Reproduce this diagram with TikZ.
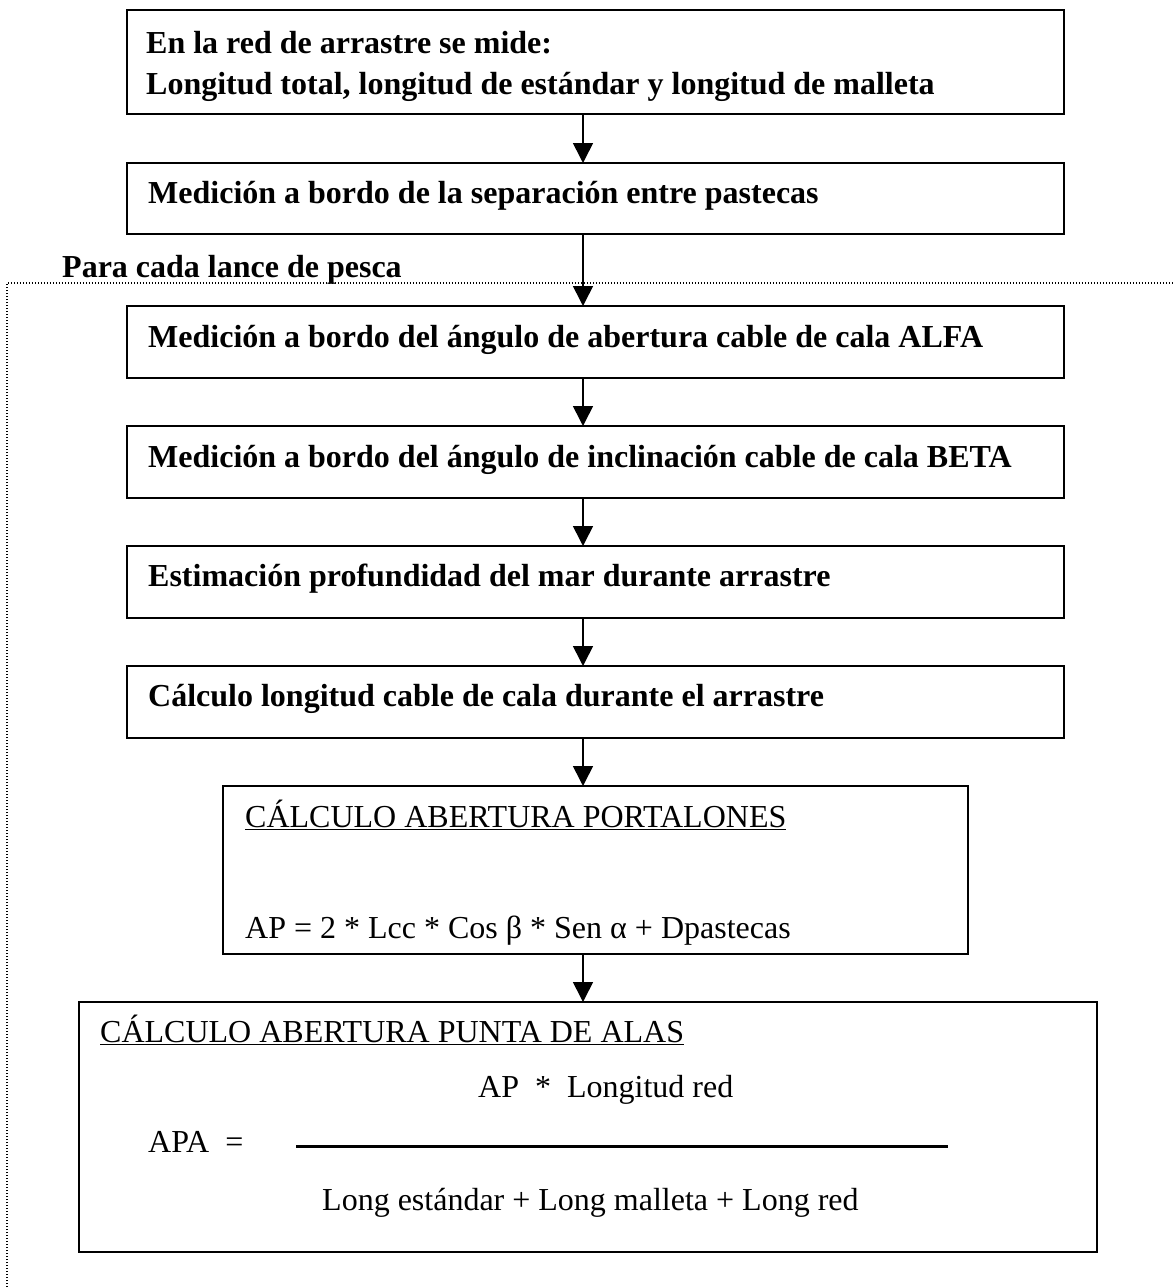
\documentclass[tikz,border=0pt]{standalone}
\usepackage{fontspec}
\setmainfont{Liberation Serif}
\usetikzlibrary{arrows.meta}
\begin{document}
\begin{tikzpicture}[x=1pt,y=-1pt,
  box/.style={draw, line width=2pt, inner sep=0pt, outer sep=0pt},
  arr/.style={line width=1.6pt, -{Triangle[length=20pt,width=20pt]}},
  btxt/.style={anchor=base west, inner sep=0pt, font=\fontsize{32}{40}\selectfont\bfseries},
  rtxt/.style={anchor=base west, inner sep=0pt, font=\fontsize{32}{40}\selectfont},
  frame/.style={line width=1.3pt, dash pattern=on 1.3pt off 1.7pt}
]
\useasboundingbox (0,0) rectangle (1173,1288);
% dotted frame
\draw[frame] (7,1290) -- (7,283) -- (1175,283);
% boxes
\node[box, minimum width=937pt, minimum height=104pt] (b1) at (595.5,62) {};
\node[box, minimum width=937pt, minimum height=71pt] (b2) at (595.5,198.5) {};
\node[box, minimum width=937pt, minimum height=72pt] (b3) at (595.5,342) {};
\node[box, minimum width=937pt, minimum height=72pt] (b4) at (595.5,462) {};
\node[box, minimum width=937pt, minimum height=72pt] (b5) at (595.5,582) {};
\node[box, minimum width=937pt, minimum height=72pt] (b6) at (595.5,702) {};
\node[box, minimum width=745pt, minimum height=168pt] (b7) at (595.5,870) {};
\node[box, minimum width=1018pt, minimum height=250pt] (b8) at (588,1127) {};
% texts
\node[btxt] (t1a) at (146,53) {En la red de arrastre se mide:};
\node[btxt] (t1b) at (146,94) {Longitud total, longitud de estándar y longitud de malleta};
\node[btxt] (t2) at (148,203) {Medición a bordo de la separación entre pastecas};
\node[btxt] (tp) at (62,277) {Para cada lance de pesca};
\node[btxt] (t3) at (148,347) {Medición a bordo del ángulo de abertura cable de cala ALFA};
\node[btxt] (t4) at (148,467) {Medición a bordo del ángulo de inclinación cable de cala BETA};
\node[btxt] (t5) at (148,586) {Estimación profundidad del mar durante arrastre};
\node[btxt] (t6) at (148,706) {Cálculo longitud cable de cala durante el arrastre};
\node[rtxt] (t7a) at (245,827) {\underline{CÁLCULO ABERTURA PORTALONES}};
\node[rtxt] (t7b) at (245,938) {AP = 2 * Lcc * Cos β * Sen α + Dpastecas};
\node[rtxt] (t8a) at (100,1042) {\underline{CÁLCULO ABERTURA PUNTA DE ALAS}};
\node[rtxt] (t8b) at (478,1097) {AP\ \ *\ \ Longitud red};
\node[rtxt] (t8c) at (148,1152) {APA\ \ =};
\node[rtxt] (t8d) at (322,1210) {Long estándar + Long malleta + Long red};
\coordinate (fl) at (296,1146);
\coordinate (fr) at (948,1146);
\draw[line width=3pt] (fl) -- (fr);
% arrows
\coordinate (ax) at (583,0);
\draw[arr] (b1.south -| ax) -- (b2.north -| ax);
\draw[arr] (b2.south -| ax) -- (b3.north -| ax);
\draw[arr] (b3.south -| ax) -- (b4.north -| ax);
\draw[arr] (b4.south -| ax) -- (b5.north -| ax);
\draw[arr] (b5.south -| ax) -- (b6.north -| ax);
\draw[arr] (b6.south -| ax) -- (b7.north -| ax);
\draw[arr] (b7.south -| ax) -- (b8.north -| ax);
\end{tikzpicture}
\end{document}
